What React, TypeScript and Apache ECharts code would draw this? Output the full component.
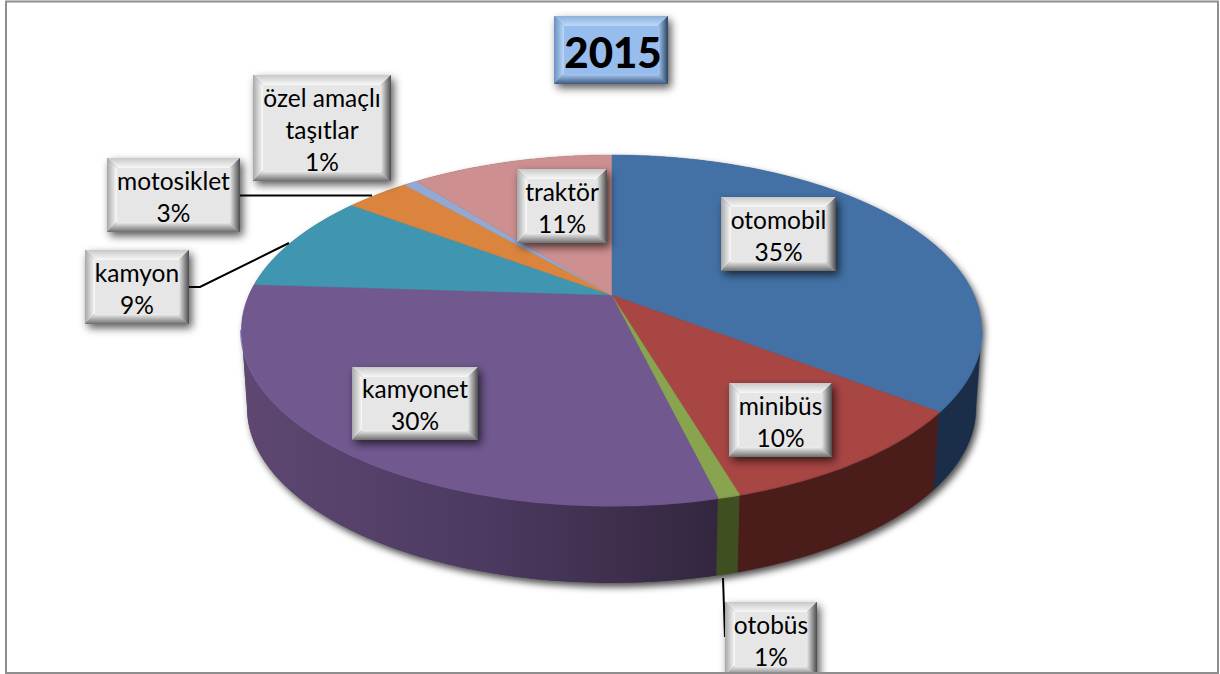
import React, { useEffect, useRef } from "react";
import * as echarts from "echarts";

const titleText = "2015";
const categories = ["otomobil", "minibüs", "otobüs", "kamyonet", "kamyon", "motosiklet", "özel amaçlı\ntaşıtlar", "traktör"];
const shares = [35.45, 9.95, 0.8, 29.8, 9.2, 3.4, 0.7, 10.7];
const topColors = ["#4371a6", "#a84644", "#88a44f", "#71588f", "#4096b0", "#db843d", "#94a9d1", "#cd8f8f"];
const wallColors: (string | string[])[] = ["#1a2d49", "#4a1d1a", "#3f4f21", ["#5e4872", "#4c3a61", "#33273f"], "#245a6a", "#8a5020", "#5a6a88", "#805858"];
const rimColors = ["#4f80b8", "#b04e4a", "#93b058", "#7f66a3", "#4ba2bc", "#e0904a", "#a0b4da", "#d49a9a"];

// layout of the label boxes: x, y, width, height
const boxLayout = [
  [721, 197, 115, 74],
  [729, 383, 103, 74],
  [725, 602, 92, 74],
  [352, 367, 126, 73],
  [85, 250, 104, 74],
  [107, 158, 133, 74],
  [253, 75, 138, 106],
  [517, 169, 90, 74],
];
const leaderLines: (number[][] | null)[] = [
  null,
  null,
  [[723, 578], [725, 637]],
  null,
  [[189, 287], [200, 287], [289, 243]],
  [[240, 195.5], [372, 195.5]],
  null,
  null,
];

const font = "Lato, Carlito, Calibri, sans-serif";
const apexX = 611.5, apexY = 295, radX = 362.5, radY = 168, persp = 0.2, depth = 78, bottomScale = 0.985;
const rightTangent = Math.acos(-persp) / (2 * Math.PI);
const leftTangent = 1 - rightTangent;

function project(f: number): number[] {
  const t = 2 * Math.PI * f;
  const d = 1 + persp * Math.cos(t);
  return [apexX + (radX * Math.sin(t)) / d, apexY - (radY * Math.cos(t)) / d];
}
function lower(p: number[]): number[] {
  return [apexX + (p[0] - apexX) * bottomScale, p[1] + depth];
}
function arc(f1: number, f2: number): number[][] {
  const n = Math.max(2, Math.ceil((f2 - f1) * 360));
  const out: number[][] = [];
  for (let i = 0; i <= n; i++) out.push(project(f1 + ((f2 - f1) * i) / n));
  return out;
}
const total = shares.reduce((a, b) => a + b, 0);
let acc = 0;
const sliceData = shares.map((s) => {
  const row = [acc / total, (acc + s) / total];
  acc += s;
  return row;
});

const grad = (x2: number, y2: number, stops: string[]) =>
  new echarts.graphic.LinearGradient(0, 0, x2, y2, stops.map((c, i) => ({ offset: i / (stops.length - 1), color: c })));

function bevelBox(x: number, y: number, w: number, h: number, pal: any, b = 10): any[] {
  const r = x + w, d = y + h;
  return [
    { type: "rect", shape: { x, y, width: w, height: h }, style: { fill: "#777", shadowBlur: 8, shadowColor: "rgba(0,0,0,0.65)", shadowOffsetX: 3, shadowOffsetY: 4 } },
    { type: "polygon", shape: { points: [[x, y], [r, y], [r - b, y + b], [x + b, y + b]] }, style: { fill: grad(0, 1, pal.top) } },
    { type: "polygon", shape: { points: [[x, y], [x + b, y + b], [x + b, d - b], [x, d]] }, style: { fill: grad(1, 0, pal.left) } },
    { type: "polygon", shape: { points: [[x, d], [x + b, d - b], [r - b, d - b], [r, d]] }, style: { fill: grad(0, 1, pal.bottom) } },
    { type: "polygon", shape: { points: [[r, y], [r, d], [r - b, d - b], [r - b, y + b]] }, style: { fill: grad(1, 0, pal.right) } },
    { type: "rect", shape: { x: x + b, y: y + b, width: w - 2 * b, height: h - 2 * b }, style: { fill: pal.center } },
  ];
}
const greyPal = {
  center: "#e6e6e6",
  top: ["#c8c8c8", "#f8f8f8"],
  left: ["#a8a8a8", "#fafafa"],
  bottom: ["#f0f0f0", "#6e6e6e"],
  right: ["#e6e6e6", "#4c4c4c"],
};
const bluePal = {
  center: "#97bdef",
  top: ["#8db0dc", "#bcdaf9"],
  left: ["#6b90c0", "#bcd9fb"],
  bottom: ["#a8caf3", "#3e5a80"],
  right: ["#a8caf3", "#2a4360"],
};

export default function App() {
  const ref = useRef<HTMLDivElement>(null);
  useEffect(() => {
    document.body.style.margin = "0";
    const chart = echarts.init(ref.current!, undefined, { renderer: "svg" });
    chart.setOption({
      animation: false,
      backgroundColor: "#ffffff",
      title: {
        text: titleText,
        left: 608,
        top: 47,
        textAlign: "center",
        textVerticalAlign: "middle",
        z: 20,
        textStyle: { fontFamily: font, fontSize: 42, fontWeight: 900, color: "#000" },
      },
      graphic: [
        { type: "group", z: 1, children: bevelBox(554, 16, 114, 68, bluePal, 10) },
        { type: "rect", z: 100, silent: true, shape: { x: 6, y: 1.5, width: 1212, height: 671.5 }, style: { fill: "transparent", stroke: "#8e8e8e", lineWidth: 2 } },
      ],
      series: [
        {
          type: "custom",
          coordinateSystem: "none",
          silent: true,
          z: 2,
          data: [[rightTangent, leftTangent]],
          renderItem: (_p: any, api: any) => {
            const a = api.value(0), b = api.value(1);
            const outline = arc(a, b).map(lower).concat(arc(b, 1 + a));
            return {
              type: "polygon",
              shape: { points: outline },
              style: { fill: "#555", shadowBlur: 7, shadowColor: "rgba(0,0,0,0.7)", shadowOffsetX: 3, shadowOffsetY: 4 },
            };
          },
        },
        {
          type: "custom",
          coordinateSystem: "none",
          silent: true,
          z: 3,
          data: sliceData,
          renderItem: (params: any, api: any) => {
            const a = Math.max(api.value(0), rightTangent);
            const b = Math.min(api.value(1), leftTangent);
            if (b <= a) return { type: "group", children: [] };
            const top = arc(a, b);
            const bot = top.map(lower).reverse();
            const c = wallColors[params.dataIndex];
            const fill = Array.isArray(c) ? grad(1, 0, c) : c;
            return {
              type: "polygon",
              shape: { points: top.concat(bot) },
              style: { fill, stroke: Array.isArray(c) ? undefined : c, lineWidth: 0.5 },
            };
          },
        },
        {
          type: "custom",
          coordinateSystem: "none",
          silent: true,
          z: 4,
          data: sliceData,
          renderItem: (params: any, api: any) => {
            const i = params.dataIndex;
            const top = arc(api.value(0), api.value(1));
            const a = Math.max(api.value(0), rightTangent);
            const b = Math.min(api.value(1), leftTangent);
            const children: any[] = [];
            if (b > a) {
              children.push({
                type: "polyline",
                shape: { points: arc(a, b) },
                style: { fill: "none", stroke: rimColors[i], lineWidth: 3, opacity: 0.75 },
              });
            }
            children.push({
              type: "polygon",
              shape: { points: [[apexX, apexY] as number[]].concat(top) },
              style: { fill: topColors[i], stroke: topColors[i], lineWidth: 0.5 },
            });
            return { type: "group", children };
          },
        },
        {
          type: "custom",
          coordinateSystem: "none",
          silent: true,
          z: 5,
          data: sliceData,
          renderItem: (params: any) => {
            const i = params.dataIndex;
            const [x, y, w, h] = boxLayout[i];
            const children: any[] = [];
            const ln = leaderLines[i];
            if (ln) children.push({ type: "polyline", shape: { points: ln }, style: { fill: "none", stroke: "#000", lineWidth: 2 } });
            children.push(...bevelBox(x, y, w, h, greyPal));
            children.push({
              type: "text",
              x: x + w / 2,
              y: y + h / 2 + 1,
              style: {
                text: `${categories[i]}\n${Math.round(shares[i])}%`,
                fontFamily: font,
                fontSize: 24.5,
                lineHeight: 32,
                fill: "#000",
                align: "center",
                verticalAlign: "middle",
              },
            });
            return { type: "group", children };
          },
        },
      ],
    });
    return () => chart.dispose();
  }, []);
  return <div ref={ref} style={{ width: 1220, height: 674 }} />;
}
